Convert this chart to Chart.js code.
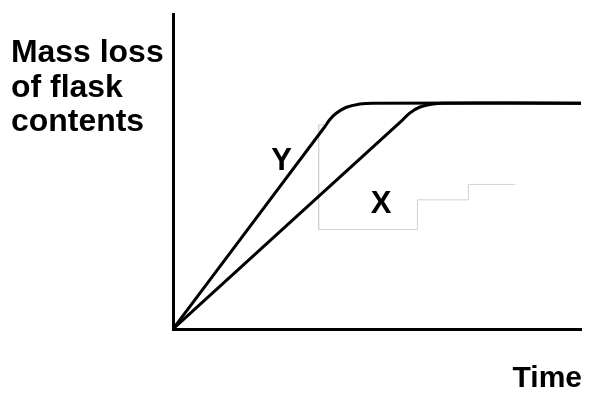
<!DOCTYPE html>
<html>
<head>
<meta charset="utf-8">
<script src="https://cdn.jsdelivr.net/npm/chart.js@4/dist/chart.umd.min.js"></script>
<style>
  html, body { margin: 0; padding: 0; background: #fff; }
  #wrap { position: relative; width: 595px; height: 398px; }
</style>
</head>
<body>
<div id="wrap"><canvas id="grafico" width="595" height="398"></canvas></div>
<script>
// curva Y (mais rapida), tempo x massa perdida
const curvaY = [
  { x: 0, y: 0 }, { x: 37.2, y: 64.2 }, { x: 38.4, y: 66.4 }, { x: 40.0, y: 68.5 },
  { x: 42.5, y: 70.4 }, { x: 45.7, y: 71.4 }, { x: 49.0, y: 71.7 }, { x: 100, y: 71.7 }
];
// curva X (mais lenta)
const curvaX = [
  { x: 0, y: 0 }, { x: 56.3, y: 66.4 }, { x: 58.0, y: 68.5 }, { x: 60.4, y: 70.4 },
  { x: 63.7, y: 71.4 }, { x: 66.1, y: 71.7 }, { x: 100, y: 71.7 }
];
// tracos cinza claros que aparecem na figura original
const tracoCinza = [
  { x: 37.2, y: 64.8 }, { x: 35.7, y: 64.8 }, { x: 35.7, y: 31.6 }, { x: 59.9, y: 31.6 },
  { x: 59.9, y: 41.0 }, { x: 72.4, y: 41.0 }, { x: 72.4, y: 45.9 }, { x: 83.9, y: 45.9 }
];
const rotulos = [
  { texto: 'Y', x: 26.6, y: 50.5 },
  { texto: 'X', x: 51.0, y: 36.7 }
];
const tituloY = ['Mass loss', 'of flask', 'contents'];
const tituloX = 'Time';

const familia = '"Liberation Sans", Arial, sans-serif';

const textos = {
  id: 'textos',
  afterDatasetsDraw(chart) {
    const { ctx, scales: { x, y } } = chart;
    ctx.save();
    ctx.fillStyle = '#000';
    ctx.textBaseline = 'alphabetic';
    ctx.font = 'bold 31px ' + familia;
    ctx.textAlign = 'center';
    rotulos.forEach(r => ctx.fillText(r.texto, x.getPixelForValue(r.x), y.getPixelForValue(r.y)));

    // titulo do eixo y, em tres linhas, levemente mais largo
    ctx.textAlign = 'left';
    tituloY.forEach((t, i) => {
      ctx.save();
      ctx.translate(11, 62 + i * 34.6);
      ctx.scale(1.03, 1);
      ctx.fillText(t, 0, 0);
      ctx.restore();
    });

    ctx.font = 'bold 30px ' + familia;
    ctx.textAlign = 'right';
    ctx.fillText(tituloX, 582, 387);
    ctx.restore();
  }
};

new Chart(document.getElementById('grafico'), {
  type: 'line',
  data: {
    datasets: [
      { label: 'Y', data: curvaY, borderColor: '#000', borderWidth: 3, pointRadius: 0, tension: 0.4 },
      { label: 'X', data: curvaX, borderColor: '#000', borderWidth: 3, pointRadius: 0, tension: 0.4 },
      { label: 'cinza', data: tracoCinza, borderColor: '#d2d2d2', borderWidth: 1, pointRadius: 0, tension: 0 }
    ]
  },
  options: {
    responsive: false,
    animation: false,
    layout: { padding: { left: 165, top: 14, right: 14, bottom: 61 } },
    plugins: { legend: { display: false }, tooltip: { enabled: false } },
    scales: {
      x: {
        type: 'linear', min: 0, max: 100,
        grid: { display: false },
        ticks: { display: false },
        border: { display: true, color: '#000', width: 3 }
      },
      y: {
        type: 'linear', min: 0, max: 100,
        grid: { display: false },
        ticks: { display: false },
        border: { display: true, color: '#000', width: 3 }
      }
    }
  },
  plugins: [textos]
});
</script>
</body>
</html>
